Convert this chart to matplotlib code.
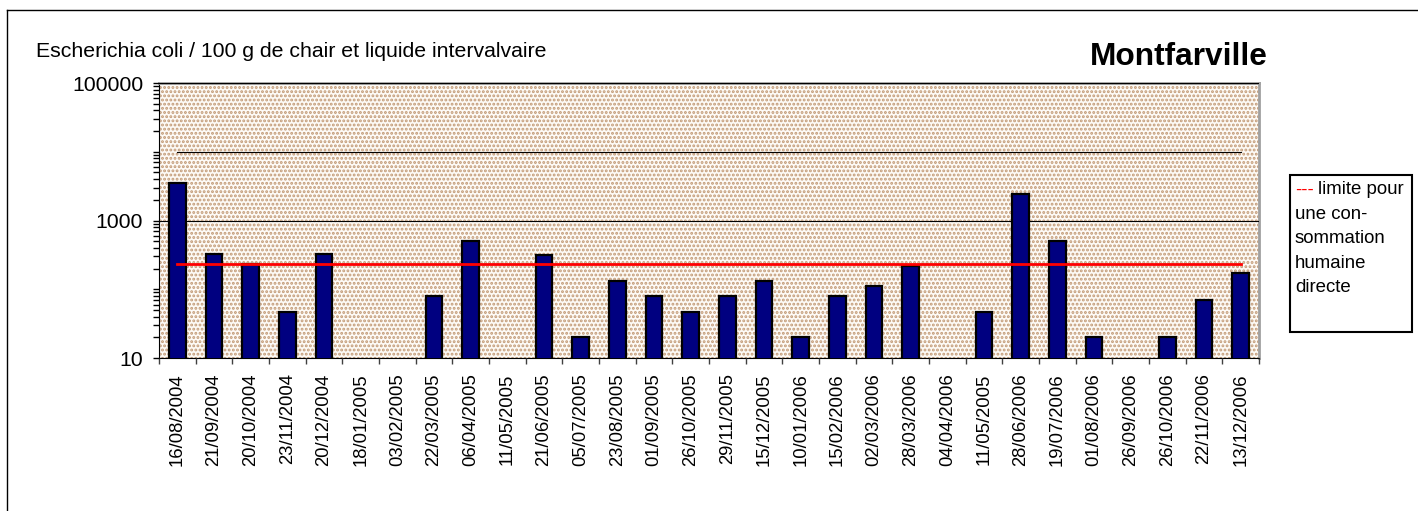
import numpy as np
import matplotlib
matplotlib.use('Agg')
import matplotlib.pyplot as plt
from matplotlib.patches import Rectangle
from matplotlib.lines import Line2D
from matplotlib.ticker import FixedLocator, NullFormatter, LogLocator

plt.rcParams['font.family'] = ['Liberation Sans', 'DejaVu Sans']
plt.rcParams['hatch.linewidth'] = 1.4

# dates de prelevement
dates = ['16/08/2004', '21/09/2004', '20/10/2004', '23/11/2004', '20/12/2004',
         '18/01/2005', '03/02/2005', '22/03/2005', '06/04/2005', '11/05/2005',
         '21/06/2005', '05/07/2005', '23/08/2005', '01/09/2005', '26/10/2005',
         '29/11/2005', '15/12/2005', '10/01/2006', '15/02/2006', '02/03/2006',
         '28/03/2006', '04/04/2006', '11/05/2005', '28/06/2006', '19/07/2006',
         '01/08/2006', '26/09/2006', '26/10/2006', '22/11/2006', '13/12/2006']

# E. coli / 100 g (nan = pas de barre visible)
ecoli = [3500, 330, 230, 46, 330,
         np.nan, np.nan, 80, 500, np.nan,
         320, 20, 130, 80, 46,
         80, 130, 20, 80, 110,
         220, np.nan, 46, 2400, 500,
         20, np.nan, 20, 70, 170]

limite_conso = 230
limite_haute = 10000

fig = plt.figure(figsize=(14.18, 5.11), dpi=100)
W, H = 1418., 511.
ax = fig.add_axes([159/W, 1-358/H, 1100/W, 275/H])

x = np.arange(len(dates))

# fond pointille
ax.set_facecolor('white')
ax.add_patch(Rectangle((0, 0), 1, 1, transform=ax.transAxes, facecolor='#fdfaf6',
                       edgecolor='#c29a76', hatch='....', lw=0, zorder=0))

ax.bar(x, ecoli, width=0.45, color='#000080', edgecolor='black', lw=1.6, zorder=3)
ax.plot(x, [limite_conso]*len(x), color='#ff0000', lw=2, zorder=4)
ax.plot(x, [limite_haute]*len(x), color='black', lw=0.8, zorder=2)

ax.set_yscale('log')
ax.set_ylim(10, 100000)
ax.set_xlim(-0.5, len(dates)-0.5)

ax.yaxis.set_major_locator(FixedLocator([10, 1000, 100000]))
ax.yaxis.set_major_formatter(matplotlib.ticker.FuncFormatter(lambda v, p: '%d' % v))
ax.yaxis.set_minor_locator(LogLocator(base=10, subs=np.arange(1, 10), numticks=50))
ax.yaxis.set_minor_formatter(NullFormatter())
ax.tick_params(axis='y', which='major', direction='out', length=4.5, width=1,
               labelsize=15.3, pad=7)
ax.tick_params(axis='y', which='minor', direction='out', length=4, width=1)
ax.yaxis.grid(True, which='major', color='black', lw=0.8)
ax.set_axisbelow(False)

# x : traits entre categories, libelles au centre
ax.xaxis.set_major_locator(FixedLocator(np.arange(len(dates)+1) - 0.5))
ax.xaxis.set_major_formatter(NullFormatter())
ax.xaxis.set_minor_locator(FixedLocator(x))
ax.set_xticklabels(dates, minor=True, rotation=90, fontsize=13.3, va='top', ha='center')
ax.tick_params(axis='x', which='major', direction='out', length=4.5, width=1, color='#404040')
ax.tick_params(axis='x', which='minor', length=0, pad=11)

for s in ['top', 'right']:
    ax.spines[s].set_color('#a0a0a0')
    ax.spines[s].set_linewidth(2)
ax.spines['left'].set_color('black')
ax.spines['bottom'].set_color('black')

# textes
fig.text(36/W, 1-51/H, 'Escherichia coli / 100 g de chair et liquide intervalvaire',
         fontsize=15.3, ha='left', va='center')
fig.text(1268/W, 1-57/H, 'Montfarville', fontsize=22.8, fontweight='bold',
         ha='right', va='center')

# legende
fig.add_artist(Rectangle((1290/W, 1-332/H), 122/W, 157/H, transform=fig.transFigure,
                         facecolor='white', edgecolor='black', lw=1.5))
fig.text(1295/W, 1-190/H, '---', color='#ff0000', fontsize=13.4, va='center')
fig.text(1318/W, 1-190/H, 'limite pour', fontsize=13.4, va='center')
lignes = ['une con-', 'sommation', 'humaine', 'directe']
for i, l in enumerate(lignes):
    fig.text(1295/W, 1-(214.5+24.3*i)/H, l, fontsize=13.4, va='center')

# cadre exterieur
fig.add_artist(Line2D([7/W, 7/W], [0, 1-10/H], transform=fig.transFigure, color='black', lw=1))
fig.add_artist(Line2D([7/W, 1], [1-10/H, 1-10/H], transform=fig.transFigure, color='black', lw=1))

fig.savefig('out.png', dpi=100)
